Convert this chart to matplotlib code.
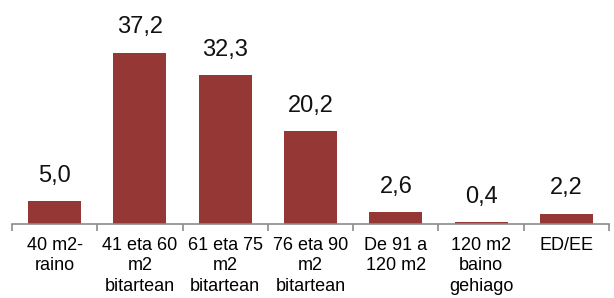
import numpy as np
import matplotlib.pyplot as plt

plt.rcParams['font.family'] = ['Liberation Sans', 'DejaVu Sans']

categories = ["40 m2-\nraino", "41 eta 60\nm2\nbitartean", "61 eta 75\nm2\nbitartean",
              "76 eta 90\nm2\nbitartean", "De 91 a\n120 m2", "120 m2\nbaino\ngehiago", "ED/EE"]
values = [5.0, 37.2, 32.3, 20.2, 2.6, 0.4, 2.2]

BAR_COLOR = '#953735'
AXIS_COLOR = '#8c8c8c'

fig = plt.figure(figsize=(6.14, 2.98), dpi=100)
ax = fig.add_axes([0.0195, 0.2483, 0.9725, 0.7517])

x = np.arange(len(values))
ax.bar(x, values, width=0.62, color=BAR_COLOR)

for xi, v in zip(x, values):
    ax.annotate(f"{v:.1f}".replace('.', ','), (xi, v), xytext=(0, 14),
                textcoords='offset points', ha='center', va='baseline',
                fontsize=17, color='#111111')

ax.set_xlim(-0.5, len(values) - 0.5)
ax.set_ylim(0, 48.7)

for s in ['top', 'right', 'left']:
    ax.spines[s].set_visible(False)
ax.spines['bottom'].set_color(AXIS_COLOR)
ax.spines['bottom'].set_linewidth(1.2)

ax.set_yticks([])
ax.set_xticks(x)
ax.set_xticklabels(categories, fontsize=13, linespacing=1.3, va='top')
ax.tick_params(axis='x', which='major', length=0, pad=9)
ax.set_xticks(np.arange(len(values) + 1) - 0.5, minor=True)
ax.tick_params(axis='x', which='minor', length=5, color=AXIS_COLOR, width=1.2)

fig.savefig('out.png', dpi=100)
